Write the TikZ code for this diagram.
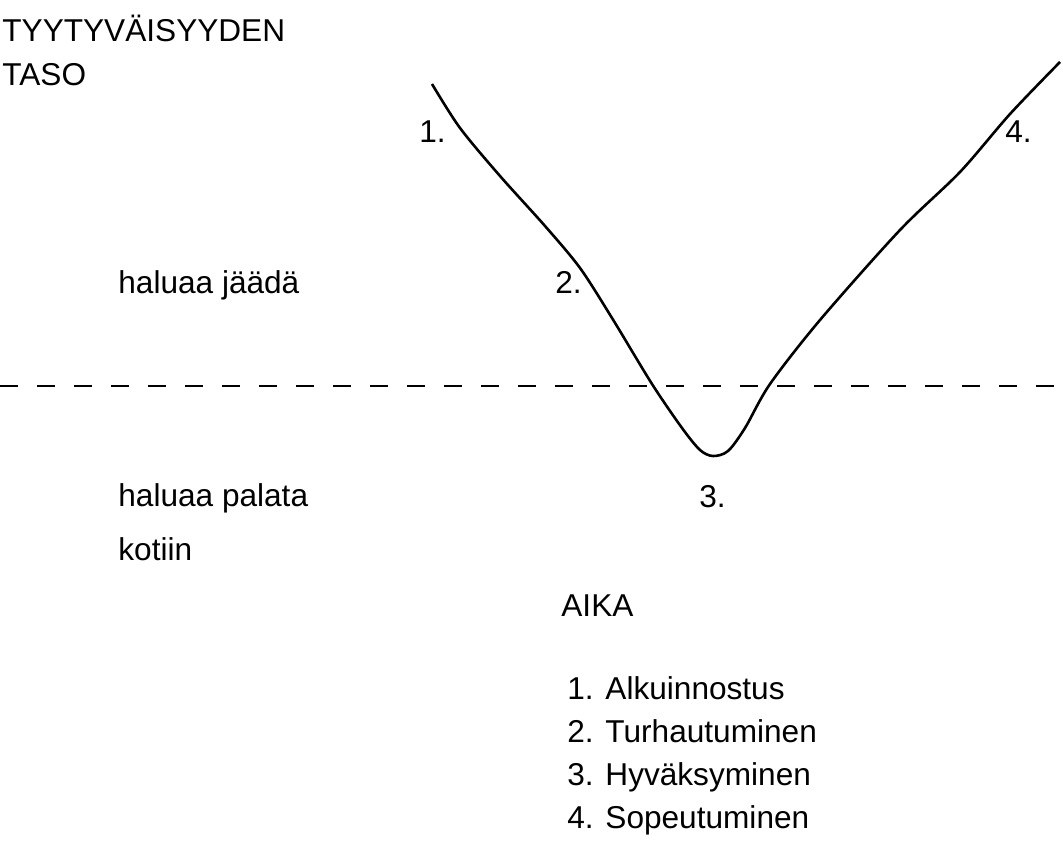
\documentclass[tikz,border=0pt]{standalone}
\usepackage{fontspec}
\setmainfont{Liberation Sans}
\usetikzlibrary{positioning}

\begin{document}
\begin{tikzpicture}[
    x=0.5pt, y=-0.5pt,
    every node/.style={font=\fontsize{15.8}{18}\selectfont, inner sep=0pt},
    lbl/.style={anchor=base west},
    curve/.style={line width=1.3pt, line join=round},
    level/.style={line width=1.2pt, dash pattern=on 9pt off 9.5pt},
]

\useasboundingbox (0,0) rectangle (1063,855);

% Axis titles
\node[lbl] (ytitle) at (2,42) {TYYTYVÄISYYDEN};
\node[lbl] (ytitle2) at (2,86) {TASO};
\node[lbl] (xtitle) at (561,616) {AIKA};

% Level descriptions
\node[lbl] (stay) at (118,293) {haluaa jäädä};
\node[lbl] (home) at (118,506) {haluaa palata};
\node[lbl] (home2) at (118,560) {kotiin};

% Threshold line
\coordinate (dl) at (0,386);
\coordinate (dr) at (1063,386);
\draw[level] (dl) -- (dr);

% Satisfaction curve
\draw[curve] plot[smooth, tension=0.5] coordinates {
    (432,84) (460,128) (500,176) (545,226) (580,268) (612,318)
    (652,384) (682,428) (700,450) (713,456) (728,451) (745,428)
    (770,384) (820,320) (900,230) (960,172) (1010,114) (1060,62)};

% Phase markers
\node[lbl] (p1) at (419,143) {1.};
\node[lbl] (p2) at (555,293) {2.};
\node[lbl] (p3) at (699,507) {3.};
\node[lbl] (p4) at (1005,143) {4.};

% Legend
\node[lbl] (l1) at (567,699) {1. Alkuinnostus};
\node[lbl] (l2) at (567,742) {2. Turhautuminen};
\node[lbl] (l3) at (567,785) {3. Hyväksyminen};
\node[lbl] (l4) at (567,828) {4. Sopeutuminen};

\end{tikzpicture}
\end{document}
